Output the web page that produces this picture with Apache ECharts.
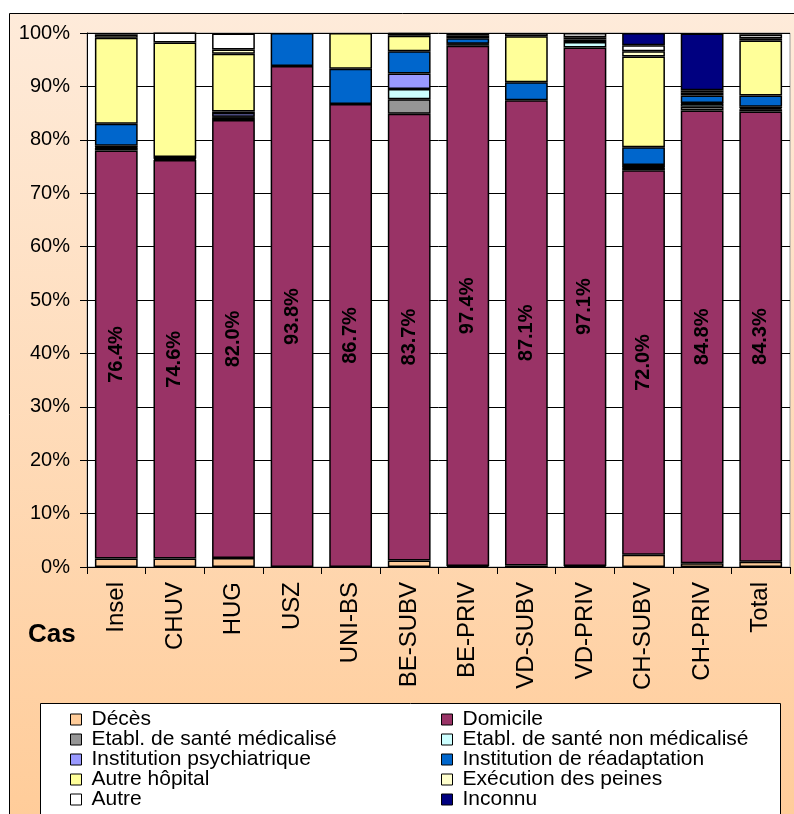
<!DOCTYPE html>
<html><head><meta charset="utf-8">
<script src="https://cdn.jsdelivr.net/npm/echarts@6/dist/echarts.min.js"></script>
<style>html,body{margin:0;padding:0;background:#fff;}#c{width:794px;height:814px;}</style>
</head><body><div id="c"></div>
<script>
const categories = ['Insel','CHUV','HUG','USZ','UNI-BS','BE-SUBV','BE-PRIV','VD-SUBV','VD-PRIV','CH-SUBV','CH-PRIV','Total'];
const deces        = [1.6, 1.6, 1.7, 0, 0, 1.2, 0.2, 0.3, 0.2, 2.3, 0.7, 1.0];
const domicile     = [76.4, 74.6, 82.0, 93.8, 86.7, 83.7, 97.4, 87.1, 97.1, 72.0, 84.8, 84.3];
const etablMed     = [0.5, 0.2, 0.5, 0, 0, 2.7, 0.3, 0, 0, 0.5, 0.7, 0.4];
const etablNonMed  = [0.1, 0, 0.1, 0, 0, 1.9, 0, 0, 1.0, 0.1, 0.6, 0.2];
const psych        = [0.3, 0.1, 0.7, 0, 0, 2.9, 0.1, 0, 0, 0.4, 0.1, 0.3];
const readapt      = [4.1, 0.3, 0.3, 6.2, 6.6, 4.2, 1.0, 3.4, 0, 3.3, 1.4, 2.1];
const autreHopital = [16.1, 21.4, 10.8, 0, 6.7, 2.9, 0, 8.6, 0.5, 17.0, 0.3, 10.3];
const execution    = [0.6, 0, 0.8, 0, 0, 0, 0, 0, 0.4, 1.0, 0.3, 0.4];
const autre        = [0.3, 1.9, 3.0, 0, 0, 0.3, 0.5, 0.6, 0.8, 1.1, 0.4, 0.7];
const inconnu      = [0, 0, 0, 0, 0, 0.2, 0.5, 0, 0, 2.3, 10.6, 0.3];
const yTicks = [0,10,20,30,40,50,60,70,80,90,100];

const seriesDefs = [
  ['Décès', deces, '#FFCC99'],
  ['Domicile', domicile, '#993366'],
  ['Etabl. de santé médicalisé', etablMed, '#969696'],
  ['Etabl. de santé non médicalisé', etablNonMed, '#CCFFFF'],
  ['Institution psychiatrique', psych, '#9999FF'],
  ['Institution de réadaptation', readapt, '#0066CC'],
  ['Autre hôpital', autreHopital, '#FFFF99'],
  ['Exécution des peines', execution, '#FFFFCC'],
  ['Autre', autre, '#FFFFFF'],
  ['Inconnu', inconnu, '#000080']
];
const FONT = 'Liberation Sans, Arial, sans-serif';
const series = seriesDefs.map(([name, vals, color]) => ({
  name, type: 'bar', stack: 'all', barCategoryGap: '27%',
  data: vals.map(v => v === 0 ? '-' : v),
  itemStyle: {color, borderColor: '#000', borderWidth: 1.5},
  emphasis: {disabled: true},
  label: name === 'Domicile' ? {
    show: true, position: 'inside', rotate: 90, fontFamily: FONT, fontWeight: 'bold',
    fontSize: 20, color: '#000', formatter: p => p.value.toFixed(1) + '%'
  } : {show: false}
}));

const leftNames = ['Décès','Etabl. de santé médicalisé','Institution psychiatrique','Autre hôpital','Autre'];
const rightNames = ['Domicile','Etabl. de santé non médicalisé','Institution de réadaptation','Exécution des peines','Inconnu'];
const legendCommon = {
  orient: 'vertical', itemWidth: 11, itemHeight: 11, itemGap: -1, icon: 'rect', height: 110,
  textStyle: {fontFamily: FONT, fontSize: 21, lineHeight: 19, color: '#000', padding: [0,0,0,5]},
  itemStyle: {borderColor: '#000', borderWidth: 1}, selectedMode: false, padding: 0
};

const chart = echarts.init(document.getElementById('c'), null, {renderer: 'canvas'});
chart.setOption({
  animation: false,
  graphic: [
    {type: 'rect', z: -10, shape: {x: 9.5, y: 13.5, width: 790, height: 810},
     style: {fill: new echarts.graphic.LinearGradient(0,0,0,1,[{offset:0,color:'#FEEBDA'},{offset:1,color:'#FFCC99'}]), stroke: '#000', lineWidth: 1}},
    {type: 'rect', z: -5, shape: {x: 40.5, y: 703.5, width: 740, height: 120},
     style: {fill: '#fff', stroke: '#000', lineWidth: 1}},
    {type: 'text', left: 28, top: 622, style: {text: 'Cas', fontFamily: FONT, fontWeight: 'bold', fontSize: 26, fill: '#000'}}
  ],
  grid: {left: 87, top: 33, right: 4, bottom: 247, show: true, backgroundColor: '#fff', borderColor: '#999', borderWidth: 1},
  legend: [
    Object.assign({}, legendCommon, {data: leftNames, left: 70, top: 709}),
    Object.assign({}, legendCommon, {data: rightNames, left: 441, top: 709})
  ],
  xAxis: {
    type: 'category', data: categories,
    axisLine: {lineStyle: {color: '#000', width: 1}},
    axisTick: {show: true, length: 7, lineStyle: {color: '#000'}},
    axisLabel: {rotate: 90, fontFamily: FONT, fontSize: 24, color: '#000', margin: 15}
  },
  yAxis: {
    type: 'value', min: 0, max: 100, interval: 10,
    axisLine: {show: true, lineStyle: {color: '#000'}},
    axisTick: {show: true, length: 7, lineStyle: {color: '#000'}},
    splitLine: {show: true, lineStyle: {color: '#000', width: 1}},
    axisLabel: {fontFamily: FONT, fontSize: 20, color: '#000', margin: 17,
      formatter: v => yTicks.includes(v) ? v + '%' : ''}
  },
  series
});
</script></body></html>
